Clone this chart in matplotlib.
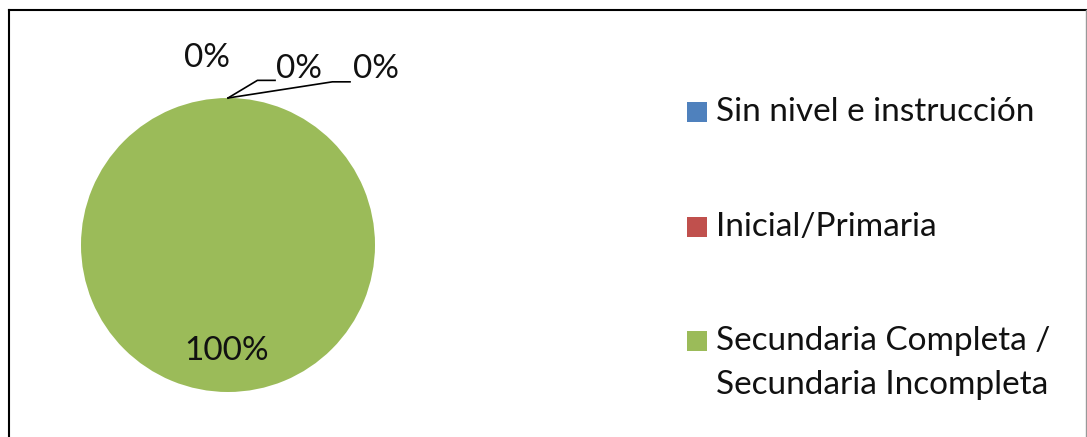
import matplotlib
matplotlib.use('Agg')
from matplotlib import pyplot as plt
from matplotlib.patches import Rectangle
import numpy as np


# slices in series order; the last one has no legend entry in the picture
categories = ['Sin nivel e instrucción', 'Inicial/Primaria',
              'Secundaria Completa /\nSecundaria Incompleta']
values = [0, 0, 100, 0]
colors = ['#4F81BD', '#C0504D', '#9BBB59', '#8064A2']

plt.rcParams['font.family'] = ['Lato', 'DejaVu Sans']
FS = 24
TXT = '#111111'

W, H = 1087, 437
fig = plt.figure(figsize=(W / 100, H / 100), dpi=100)

# pie centre (228, 245) px, radius 147 px
cx, cy, r = 228, 245, 147
ax = fig.add_axes([(cx - r) / W, (H - cy - r) / H, 2 * r / W, 2 * r / H])
wedges, _ = ax.pie(values, colors=colors, startangle=90, counterclock=False,
                   wedgeprops=dict(linewidth=0))
ax.set_xlim(-1, 1)
ax.set_ylim(-1, 1)
ax.set_aspect('equal')
ax.axis('off')

total = float(sum(values))
# label placement (data units) for the small slices, Excel-like
small_pos = [(0.48, 1.20), (1.01, 1.20), (-0.14, 1.27)]
small_elbow = [[(0.20, 1.12), (0.32, 1.12)], [(0.71, 1.11), (0.83, 1.11)], None]
k = 0
for w, v in zip(wedges, values):
    pct = f'{v / total * 100:.0f}%'
    mid = np.deg2rad((w.theta1 + w.theta2) / 2)
    px, py = np.cos(mid), np.sin(mid)
    if v / total > 0.5:
        ax.text(-0.01, -0.72, pct, ha='center', va='center', fontsize=FS, color=TXT)
        continue
    lx, ly = small_pos[k]
    ax.text(lx, ly, pct, ha='center', va='center', fontsize=FS, color=TXT, clip_on=False)
    if small_elbow[k] is not None:
        xs = [px] + [p[0] for p in small_elbow[k]]
        ys = [py] + [p[1] for p in small_elbow[k]]
        ax.plot(xs, ys, color='black', linewidth=1.2, clip_on=False)
    k += 1

# legend drawn by hand
rows_y = [112, 227, 341]
line_gap = 44
for cat, col, y in zip(categories, colors, rows_y):
    fig.patches.append(Rectangle((687 / W, (H - y - 10) / H), 20 / W, 20 / H,
                                 transform=fig.transFigure, facecolor=col,
                                 edgecolor='none'))
    for j, line in enumerate(cat.split('\n')):
        fig.text(716 / W, (H - y - j * line_gap) / H, line, ha='left', va='center',
                 fontsize=FS, color=TXT)

# frame of the chart area
fig.add_artist(plt.Line2D([9 / W, 9 / W], [0, (H - 10) / H], color='black', linewidth=1.5))
fig.add_artist(plt.Line2D([9 / W, 1086 / W], [(H - 10) / H, (H - 10) / H], color='black', linewidth=1.5))
fig.add_artist(plt.Line2D([1086 / W, 1086 / W], [0, (H - 10) / H], color='#999999', linewidth=1))

fig.savefig('out.png', dpi=100)
